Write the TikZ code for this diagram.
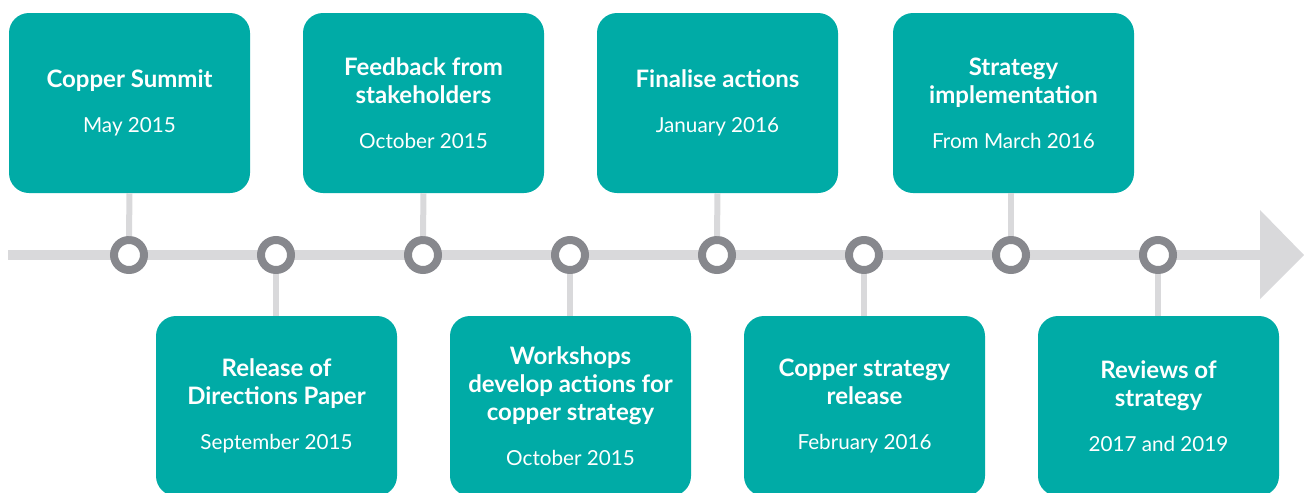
\documentclass[tikz,border=0pt]{standalone}
\usepackage{fontspec}
\setmainfont{Lato}
\definecolor{teal}{RGB}{0,171,166}
\definecolor{ringgray}{RGB}{135,136,141}
\definecolor{linegray}{RGB}{217,217,219}
\tikzset{
  stagebox/.style={fill=teal, rounded corners=15pt, minimum width=180.75pt, minimum height=135pt,
    text=white, align=center, font=\fontsize{18pt}{21pt}\selectfont\bfseries, inner sep=0pt},
  milestone/.style={circle, draw=ringgray, line width=6pt, fill=white, minimum size=22.5pt, inner sep=0pt},
  stem/.style={draw=linegray, line width=4.5pt}
}
\newcommand{\stage}[2]{#1\\[13pt]\fontsize{15.5pt}{21pt}\selectfont\mdseries #2}
\begin{document}
\begin{tikzpicture}[x=0.75pt,y=0.75pt,yscale=-1]
\useasboundingbox (0,0) rectangle (1304,493);
\clip (0,0) rectangle (1304,493);

% timeline
\coordinate (start) at (8,255);
\coordinate (tip) at (1304,255);
\draw [linegray, line width=8pt] (start) -- (1262,255);
\fill [linegray] (1260,210) -- (tip) -- (1260,299) -- cycle;

% boxes above the line
\node [stagebox] (b1) at (129.5,103) {\stage{Copper Summit}{May 2015}};
\node [stagebox] (b3) at (423.5,103) {\stage{Feedback from\\stakeholders}{October 2015}};
\node [stagebox] (b5) at (717.5,103) {\stage{Finalise actions}{January 2016}};
\node [stagebox] (b7) at (1013.5,103) {\stage{Strategy\\implementation}{From March 2016}};

% boxes below the line
\node [stagebox] (b2) at (276.5,406) {\stage{Release of\\Directions Paper}{September 2015}};
\node [stagebox] (b4) at (570.5,406) {\stage{Workshops\\develop actions for\\copper strategy}{October 2015}};
\node [stagebox] (b6) at (864.5,406) {\stage{Copper strategy\\release}{February 2016}};
\node [stagebox] (b8) at (1158.5,406) {\stage{Reviews of\\strategy}{2017 and 2019}};

% milestones
\node [milestone] (c1) at (129,255) {};
\node [milestone] (c2) at (276,255) {};
\node [milestone] (c3) at (423,255) {};
\node [milestone] (c4) at (570,255) {};
\node [milestone] (c5) at (717,255) {};
\node [milestone] (c6) at (864,255) {};
\node [milestone] (c7) at (1011,255) {};
\node [milestone] (c8) at (1158,255) {};

% stems
\draw [stem] (b1.south) -- (c1.north);
\draw [stem] (b3.south) -- (c3.north);
\draw [stem] (b5.south) -- (c5.north);
\draw [stem] (b7.south -| c7) -- (c7.north);
\draw [stem] (b2.north -| c2) -- (c2.south);
\draw [stem] (b4.north -| c4) -- (c4.south);
\draw [stem] (b6.north -| c6) -- (c6.south);
\draw [stem] (b8.north -| c8) -- (c8.south);

\end{tikzpicture}
\end{document}
